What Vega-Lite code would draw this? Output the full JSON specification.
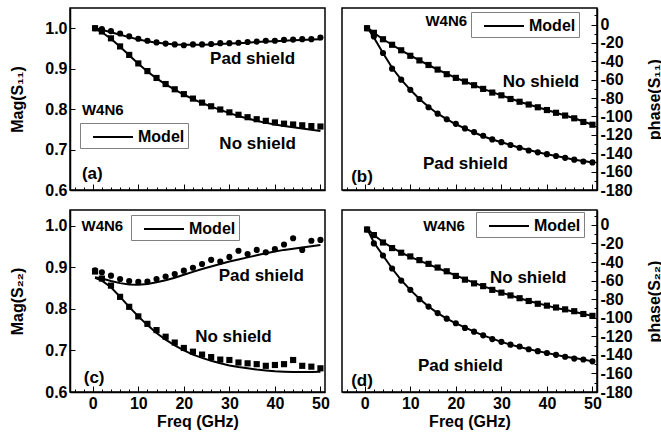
{
  "$schema": "https://vega.github.io/schema/vega-lite/v6.json",
  "padding": {"left": 9, "top": 7, "right": 0, "bottom": 0},
  "autosize": {"type": "pad"},
  "background": "white",
  "config": {
    "font": "Liberation Sans",
    "view": {"stroke": "black", "strokeWidth": 1.5},
    "axis": {
      "labelFont": "Liberation Sans", "labelFontSize": 16, "labelFontWeight": "bold", "labelColor": "black",
      "titleFont": "Liberation Sans", "titleFontSize": 16, "titleFontWeight": "bold", "titleColor": "black",
      "grid": false, "domainColor": "black", "domainWidth": 1.5, "tickColor": "black", "tickWidth": 1
    },
    "legend": {
      "title": null, "strokeColor": "#808080", "fillColor": "white", "padding": 3,
      "labelFont": "Liberation Sans", "labelFontSize": 16, "labelFontWeight": "bold", "labelColor": "black",
      "symbolType": "M-2,0H2", "symbolSize": 400, "symbolStrokeWidth": 2, "symbolStrokeColor": "black", "symbolFillColor": "transparent",
      "symbolOffset": 19, "labelOffset": 14
    }
  },
  "datasets": {
    "meas": [
      {"p":"a","s":"Pad shield","f":0.5,"v":1.0},{"p":"a","s":"Pad shield","f":2,"v":0.998},{"p":"a","s":"Pad shield","f":4,"v":0.993},{"p":"a","s":"Pad shield","f":6,"v":0.987},{"p":"a","s":"Pad shield","f":8,"v":0.98},{"p":"a","s":"Pad shield","f":10,"v":0.974},{"p":"a","s":"Pad shield","f":12,"v":0.969},{"p":"a","s":"Pad shield","f":14,"v":0.965},{"p":"a","s":"Pad shield","f":16,"v":0.962},{"p":"a","s":"Pad shield","f":18,"v":0.96},{"p":"a","s":"Pad shield","f":20,"v":0.958},{"p":"a","s":"Pad shield","f":22,"v":0.96},{"p":"a","s":"Pad shield","f":24,"v":0.96},{"p":"a","s":"Pad shield","f":26,"v":0.961},{"p":"a","s":"Pad shield","f":28,"v":0.963},{"p":"a","s":"Pad shield","f":30,"v":0.963},{"p":"a","s":"Pad shield","f":32,"v":0.964},{"p":"a","s":"Pad shield","f":34,"v":0.966},{"p":"a","s":"Pad shield","f":36,"v":0.967},{"p":"a","s":"Pad shield","f":38,"v":0.969},{"p":"a","s":"Pad shield","f":40,"v":0.969},{"p":"a","s":"Pad shield","f":42,"v":0.971},{"p":"a","s":"Pad shield","f":44,"v":0.972},{"p":"a","s":"Pad shield","f":46,"v":0.973},{"p":"a","s":"Pad shield","f":48,"v":0.973},{"p":"a","s":"Pad shield","f":50,"v":0.977},
      {"p":"a","s":"No shield","f":0.5,"v":1.0},{"p":"a","s":"No shield","f":2,"v":0.992},{"p":"a","s":"No shield","f":4,"v":0.975},{"p":"a","s":"No shield","f":6,"v":0.955},{"p":"a","s":"No shield","f":8,"v":0.934},{"p":"a","s":"No shield","f":10,"v":0.913},{"p":"a","s":"No shield","f":12,"v":0.894},{"p":"a","s":"No shield","f":14,"v":0.877},{"p":"a","s":"No shield","f":16,"v":0.862},{"p":"a","s":"No shield","f":18,"v":0.849},{"p":"a","s":"No shield","f":20,"v":0.837},{"p":"a","s":"No shield","f":22,"v":0.826},{"p":"a","s":"No shield","f":24,"v":0.816},{"p":"a","s":"No shield","f":26,"v":0.807},{"p":"a","s":"No shield","f":28,"v":0.799},{"p":"a","s":"No shield","f":30,"v":0.792},{"p":"a","s":"No shield","f":32,"v":0.786},{"p":"a","s":"No shield","f":34,"v":0.78},{"p":"a","s":"No shield","f":36,"v":0.775},{"p":"a","s":"No shield","f":38,"v":0.771},{"p":"a","s":"No shield","f":40,"v":0.767},{"p":"a","s":"No shield","f":42,"v":0.764},{"p":"a","s":"No shield","f":44,"v":0.762},{"p":"a","s":"No shield","f":46,"v":0.76},{"p":"a","s":"No shield","f":48,"v":0.758},{"p":"a","s":"No shield","f":50,"v":0.757},
      {"p":"b","s":"No shield","f":0.5,"v":-4},{"p":"b","s":"No shield","f":2,"v":-9},{"p":"b","s":"No shield","f":4,"v":-16},{"p":"b","s":"No shield","f":6,"v":-22},{"p":"b","s":"No shield","f":8,"v":-28},{"p":"b","s":"No shield","f":10,"v":-34},{"p":"b","s":"No shield","f":12,"v":-39},{"p":"b","s":"No shield","f":14,"v":-44},{"p":"b","s":"No shield","f":16,"v":-49},{"p":"b","s":"No shield","f":18,"v":-54},{"p":"b","s":"No shield","f":20,"v":-58},{"p":"b","s":"No shield","f":22,"v":-62},{"p":"b","s":"No shield","f":24,"v":-66},{"p":"b","s":"No shield","f":26,"v":-70},{"p":"b","s":"No shield","f":28,"v":-74},{"p":"b","s":"No shield","f":30,"v":-77},{"p":"b","s":"No shield","f":32,"v":-81},{"p":"b","s":"No shield","f":34,"v":-84},{"p":"b","s":"No shield","f":36,"v":-87},{"p":"b","s":"No shield","f":38,"v":-90},{"p":"b","s":"No shield","f":40,"v":-93},{"p":"b","s":"No shield","f":42,"v":-96},{"p":"b","s":"No shield","f":44,"v":-99},{"p":"b","s":"No shield","f":46,"v":-102},{"p":"b","s":"No shield","f":48,"v":-106},{"p":"b","s":"No shield","f":50,"v":-109},
      {"p":"b","s":"Pad shield","f":0.5,"v":-4},{"p":"b","s":"Pad shield","f":2,"v":-13},{"p":"b","s":"Pad shield","f":4,"v":-31},{"p":"b","s":"Pad shield","f":6,"v":-48},{"p":"b","s":"Pad shield","f":8,"v":-60},{"p":"b","s":"Pad shield","f":10,"v":-71},{"p":"b","s":"Pad shield","f":12,"v":-81},{"p":"b","s":"Pad shield","f":14,"v":-90},{"p":"b","s":"Pad shield","f":16,"v":-97},{"p":"b","s":"Pad shield","f":18,"v":-103},{"p":"b","s":"Pad shield","f":20,"v":-108},{"p":"b","s":"Pad shield","f":22,"v":-113},{"p":"b","s":"Pad shield","f":24,"v":-117},{"p":"b","s":"Pad shield","f":26,"v":-121},{"p":"b","s":"Pad shield","f":28,"v":-125},{"p":"b","s":"Pad shield","f":30,"v":-128},{"p":"b","s":"Pad shield","f":32,"v":-131},{"p":"b","s":"Pad shield","f":34,"v":-134},{"p":"b","s":"Pad shield","f":36,"v":-137},{"p":"b","s":"Pad shield","f":38,"v":-139},{"p":"b","s":"Pad shield","f":40,"v":-141},{"p":"b","s":"Pad shield","f":42,"v":-143},{"p":"b","s":"Pad shield","f":44,"v":-145},{"p":"b","s":"Pad shield","f":46,"v":-147},{"p":"b","s":"Pad shield","f":48,"v":-149},{"p":"b","s":"Pad shield","f":50,"v":-150},
      {"p":"c","s":"Pad shield","f":0.5,"v":0.893},{"p":"c","s":"Pad shield","f":2,"v":0.888},{"p":"c","s":"Pad shield","f":4,"v":0.88},{"p":"c","s":"Pad shield","f":6,"v":0.872},{"p":"c","s":"Pad shield","f":8,"v":0.867},{"p":"c","s":"Pad shield","f":10,"v":0.865},{"p":"c","s":"Pad shield","f":12,"v":0.866},{"p":"c","s":"Pad shield","f":14,"v":0.872},{"p":"c","s":"Pad shield","f":16,"v":0.878},{"p":"c","s":"Pad shield","f":18,"v":0.884},{"p":"c","s":"Pad shield","f":20,"v":0.892},{"p":"c","s":"Pad shield","f":22,"v":0.899},{"p":"c","s":"Pad shield","f":24,"v":0.908},{"p":"c","s":"Pad shield","f":26,"v":0.918},{"p":"c","s":"Pad shield","f":28,"v":0.914},{"p":"c","s":"Pad shield","f":30,"v":0.925},{"p":"c","s":"Pad shield","f":32,"v":0.94},{"p":"c","s":"Pad shield","f":34,"v":0.932},{"p":"c","s":"Pad shield","f":36,"v":0.942},{"p":"c","s":"Pad shield","f":38,"v":0.936},{"p":"c","s":"Pad shield","f":40,"v":0.944},{"p":"c","s":"Pad shield","f":42,"v":0.955},{"p":"c","s":"Pad shield","f":44,"v":0.97},{"p":"c","s":"Pad shield","f":46,"v":0.942},{"p":"c","s":"Pad shield","f":48,"v":0.964},{"p":"c","s":"Pad shield","f":50,"v":0.966},
      {"p":"c","s":"No shield","f":0.5,"v":0.89},{"p":"c","s":"No shield","f":2,"v":0.873},{"p":"c","s":"No shield","f":4,"v":0.856},{"p":"c","s":"No shield","f":6,"v":0.829},{"p":"c","s":"No shield","f":8,"v":0.805},{"p":"c","s":"No shield","f":10,"v":0.782},{"p":"c","s":"No shield","f":12,"v":0.764},{"p":"c","s":"No shield","f":14,"v":0.749},{"p":"c","s":"No shield","f":16,"v":0.733},{"p":"c","s":"No shield","f":18,"v":0.719},{"p":"c","s":"No shield","f":20,"v":0.706},{"p":"c","s":"No shield","f":22,"v":0.697},{"p":"c","s":"No shield","f":24,"v":0.69},{"p":"c","s":"No shield","f":26,"v":0.684},{"p":"c","s":"No shield","f":28,"v":0.678},{"p":"c","s":"No shield","f":30,"v":0.677},{"p":"c","s":"No shield","f":32,"v":0.671},{"p":"c","s":"No shield","f":34,"v":0.669},{"p":"c","s":"No shield","f":36,"v":0.667},{"p":"c","s":"No shield","f":38,"v":0.663},{"p":"c","s":"No shield","f":40,"v":0.665},{"p":"c","s":"No shield","f":42,"v":0.667},{"p":"c","s":"No shield","f":44,"v":0.677},{"p":"c","s":"No shield","f":46,"v":0.663},{"p":"c","s":"No shield","f":48,"v":0.661},{"p":"c","s":"No shield","f":50,"v":0.657},
      {"p":"d","s":"No shield","f":0.5,"v":-5},{"p":"d","s":"No shield","f":2,"v":-11},{"p":"d","s":"No shield","f":4,"v":-19},{"p":"d","s":"No shield","f":6,"v":-25},{"p":"d","s":"No shield","f":8,"v":-30},{"p":"d","s":"No shield","f":10,"v":-34},{"p":"d","s":"No shield","f":12,"v":-38},{"p":"d","s":"No shield","f":14,"v":-42},{"p":"d","s":"No shield","f":16,"v":-46},{"p":"d","s":"No shield","f":18,"v":-50},{"p":"d","s":"No shield","f":20,"v":-55},{"p":"d","s":"No shield","f":22,"v":-59},{"p":"d","s":"No shield","f":24,"v":-63},{"p":"d","s":"No shield","f":26,"v":-66},{"p":"d","s":"No shield","f":28,"v":-70},{"p":"d","s":"No shield","f":30,"v":-73},{"p":"d","s":"No shield","f":32,"v":-76},{"p":"d","s":"No shield","f":34,"v":-79},{"p":"d","s":"No shield","f":36,"v":-82},{"p":"d","s":"No shield","f":38,"v":-85},{"p":"d","s":"No shield","f":40,"v":-87},{"p":"d","s":"No shield","f":42,"v":-89},{"p":"d","s":"No shield","f":44,"v":-91},{"p":"d","s":"No shield","f":46,"v":-93},{"p":"d","s":"No shield","f":48,"v":-96},{"p":"d","s":"No shield","f":50,"v":-98},
      {"p":"d","s":"Pad shield","f":0.5,"v":-5},{"p":"d","s":"Pad shield","f":2,"v":-20},{"p":"d","s":"Pad shield","f":4,"v":-33},{"p":"d","s":"Pad shield","f":6,"v":-47},{"p":"d","s":"Pad shield","f":8,"v":-60},{"p":"d","s":"Pad shield","f":10,"v":-70},{"p":"d","s":"Pad shield","f":12,"v":-80},{"p":"d","s":"Pad shield","f":14,"v":-88},{"p":"d","s":"Pad shield","f":16,"v":-95},{"p":"d","s":"Pad shield","f":18,"v":-101},{"p":"d","s":"Pad shield","f":20,"v":-106},{"p":"d","s":"Pad shield","f":22,"v":-111},{"p":"d","s":"Pad shield","f":24,"v":-115},{"p":"d","s":"Pad shield","f":26,"v":-119},{"p":"d","s":"Pad shield","f":28,"v":-123},{"p":"d","s":"Pad shield","f":30,"v":-126},{"p":"d","s":"Pad shield","f":32,"v":-129},{"p":"d","s":"Pad shield","f":34,"v":-131},{"p":"d","s":"Pad shield","f":36,"v":-134},{"p":"d","s":"Pad shield","f":38,"v":-136},{"p":"d","s":"Pad shield","f":40,"v":-138},{"p":"d","s":"Pad shield","f":42,"v":-140},{"p":"d","s":"Pad shield","f":44,"v":-142},{"p":"d","s":"Pad shield","f":46,"v":-144},{"p":"d","s":"Pad shield","f":48,"v":-145},{"p":"d","s":"Pad shield","f":50,"v":-147}
    ],
    "model": [
      {"p":"a","s":"Pad shield","f":0.5,"v":1.0},{"p":"a","s":"Pad shield","f":2,"v":0.996},{"p":"a","s":"Pad shield","f":4,"v":0.99},{"p":"a","s":"Pad shield","f":6,"v":0.984},{"p":"a","s":"Pad shield","f":8,"v":0.978},{"p":"a","s":"Pad shield","f":10,"v":0.972},{"p":"a","s":"Pad shield","f":12,"v":0.968},{"p":"a","s":"Pad shield","f":14,"v":0.964},{"p":"a","s":"Pad shield","f":16,"v":0.962},{"p":"a","s":"Pad shield","f":18,"v":0.96},{"p":"a","s":"Pad shield","f":20,"v":0.959},{"p":"a","s":"Pad shield","f":22,"v":0.959},{"p":"a","s":"Pad shield","f":24,"v":0.959},{"p":"a","s":"Pad shield","f":26,"v":0.96},{"p":"a","s":"Pad shield","f":28,"v":0.961},{"p":"a","s":"Pad shield","f":30,"v":0.962},{"p":"a","s":"Pad shield","f":32,"v":0.963},{"p":"a","s":"Pad shield","f":34,"v":0.964},{"p":"a","s":"Pad shield","f":36,"v":0.966},{"p":"a","s":"Pad shield","f":38,"v":0.967},{"p":"a","s":"Pad shield","f":40,"v":0.968},{"p":"a","s":"Pad shield","f":42,"v":0.969},{"p":"a","s":"Pad shield","f":44,"v":0.97},{"p":"a","s":"Pad shield","f":46,"v":0.971},{"p":"a","s":"Pad shield","f":48,"v":0.972},{"p":"a","s":"Pad shield","f":50,"v":0.973},
      {"p":"a","s":"No shield","f":0.5,"v":0.999},{"p":"a","s":"No shield","f":2,"v":0.99},{"p":"a","s":"No shield","f":4,"v":0.974},{"p":"a","s":"No shield","f":6,"v":0.954},{"p":"a","s":"No shield","f":8,"v":0.933},{"p":"a","s":"No shield","f":10,"v":0.912},{"p":"a","s":"No shield","f":12,"v":0.893},{"p":"a","s":"No shield","f":14,"v":0.876},{"p":"a","s":"No shield","f":16,"v":0.861},{"p":"a","s":"No shield","f":18,"v":0.848},{"p":"a","s":"No shield","f":20,"v":0.836},{"p":"a","s":"No shield","f":22,"v":0.825},{"p":"a","s":"No shield","f":24,"v":0.815},{"p":"a","s":"No shield","f":26,"v":0.806},{"p":"a","s":"No shield","f":28,"v":0.798},{"p":"a","s":"No shield","f":30,"v":0.79},{"p":"a","s":"No shield","f":32,"v":0.783},{"p":"a","s":"No shield","f":34,"v":0.777},{"p":"a","s":"No shield","f":36,"v":0.771},{"p":"a","s":"No shield","f":38,"v":0.766},{"p":"a","s":"No shield","f":40,"v":0.762},{"p":"a","s":"No shield","f":42,"v":0.758},{"p":"a","s":"No shield","f":44,"v":0.755},{"p":"a","s":"No shield","f":46,"v":0.752},{"p":"a","s":"No shield","f":48,"v":0.749},{"p":"a","s":"No shield","f":50,"v":0.746},
      {"p":"b","s":"No shield","f":0.5,"v":-3},{"p":"b","s":"No shield","f":2,"v":-9},{"p":"b","s":"No shield","f":4,"v":-16},{"p":"b","s":"No shield","f":6,"v":-22},{"p":"b","s":"No shield","f":8,"v":-28},{"p":"b","s":"No shield","f":10,"v":-33.5},{"p":"b","s":"No shield","f":12,"v":-39},{"p":"b","s":"No shield","f":14,"v":-44},{"p":"b","s":"No shield","f":16,"v":-49},{"p":"b","s":"No shield","f":18,"v":-53.5},{"p":"b","s":"No shield","f":20,"v":-58},{"p":"b","s":"No shield","f":22,"v":-62},{"p":"b","s":"No shield","f":24,"v":-66},{"p":"b","s":"No shield","f":26,"v":-70},{"p":"b","s":"No shield","f":28,"v":-73.5},{"p":"b","s":"No shield","f":30,"v":-77},{"p":"b","s":"No shield","f":32,"v":-80.5},{"p":"b","s":"No shield","f":34,"v":-84},{"p":"b","s":"No shield","f":36,"v":-87},{"p":"b","s":"No shield","f":38,"v":-90},{"p":"b","s":"No shield","f":40,"v":-93},{"p":"b","s":"No shield","f":42,"v":-96},{"p":"b","s":"No shield","f":44,"v":-99},{"p":"b","s":"No shield","f":46,"v":-102},{"p":"b","s":"No shield","f":48,"v":-105.5},{"p":"b","s":"No shield","f":50,"v":-109},
      {"p":"b","s":"Pad shield","f":0.5,"v":-3},{"p":"b","s":"Pad shield","f":2,"v":-14},{"p":"b","s":"Pad shield","f":4,"v":-31},{"p":"b","s":"Pad shield","f":6,"v":-47},{"p":"b","s":"Pad shield","f":8,"v":-60},{"p":"b","s":"Pad shield","f":10,"v":-71},{"p":"b","s":"Pad shield","f":12,"v":-81},{"p":"b","s":"Pad shield","f":14,"v":-89.5},{"p":"b","s":"Pad shield","f":16,"v":-97},{"p":"b","s":"Pad shield","f":18,"v":-103},{"p":"b","s":"Pad shield","f":20,"v":-108.5},{"p":"b","s":"Pad shield","f":22,"v":-113},{"p":"b","s":"Pad shield","f":24,"v":-117.5},{"p":"b","s":"Pad shield","f":26,"v":-121.5},{"p":"b","s":"Pad shield","f":28,"v":-125},{"p":"b","s":"Pad shield","f":30,"v":-128},{"p":"b","s":"Pad shield","f":32,"v":-131},{"p":"b","s":"Pad shield","f":34,"v":-134},{"p":"b","s":"Pad shield","f":36,"v":-136.5},{"p":"b","s":"Pad shield","f":38,"v":-139},{"p":"b","s":"Pad shield","f":40,"v":-141},{"p":"b","s":"Pad shield","f":42,"v":-143},{"p":"b","s":"Pad shield","f":44,"v":-145},{"p":"b","s":"Pad shield","f":46,"v":-147},{"p":"b","s":"Pad shield","f":48,"v":-148.5},{"p":"b","s":"Pad shield","f":50,"v":-150},
      {"p":"c","s":"Pad shield","f":0.5,"v":0.876},{"p":"c","s":"Pad shield","f":2,"v":0.873},{"p":"c","s":"Pad shield","f":4,"v":0.867},{"p":"c","s":"Pad shield","f":6,"v":0.862},{"p":"c","s":"Pad shield","f":8,"v":0.859},{"p":"c","s":"Pad shield","f":10,"v":0.858},{"p":"c","s":"Pad shield","f":12,"v":0.86},{"p":"c","s":"Pad shield","f":14,"v":0.864},{"p":"c","s":"Pad shield","f":16,"v":0.869},{"p":"c","s":"Pad shield","f":18,"v":0.875},{"p":"c","s":"Pad shield","f":20,"v":0.882},{"p":"c","s":"Pad shield","f":22,"v":0.889},{"p":"c","s":"Pad shield","f":24,"v":0.896},{"p":"c","s":"Pad shield","f":26,"v":0.902},{"p":"c","s":"Pad shield","f":28,"v":0.908},{"p":"c","s":"Pad shield","f":30,"v":0.914},{"p":"c","s":"Pad shield","f":32,"v":0.919},{"p":"c","s":"Pad shield","f":34,"v":0.924},{"p":"c","s":"Pad shield","f":36,"v":0.929},{"p":"c","s":"Pad shield","f":38,"v":0.934},{"p":"c","s":"Pad shield","f":40,"v":0.938},{"p":"c","s":"Pad shield","f":42,"v":0.942},{"p":"c","s":"Pad shield","f":44,"v":0.945},{"p":"c","s":"Pad shield","f":46,"v":0.948},{"p":"c","s":"Pad shield","f":48,"v":0.951},{"p":"c","s":"Pad shield","f":50,"v":0.954},
      {"p":"c","s":"No shield","f":0.5,"v":0.875},{"p":"c","s":"No shield","f":2,"v":0.868},{"p":"c","s":"No shield","f":4,"v":0.852},{"p":"c","s":"No shield","f":6,"v":0.829},{"p":"c","s":"No shield","f":8,"v":0.805},{"p":"c","s":"No shield","f":10,"v":0.782},{"p":"c","s":"No shield","f":12,"v":0.761},{"p":"c","s":"No shield","f":14,"v":0.742},{"p":"c","s":"No shield","f":16,"v":0.726},{"p":"c","s":"No shield","f":18,"v":0.712},{"p":"c","s":"No shield","f":20,"v":0.7},{"p":"c","s":"No shield","f":22,"v":0.69},{"p":"c","s":"No shield","f":24,"v":0.682},{"p":"c","s":"No shield","f":26,"v":0.675},{"p":"c","s":"No shield","f":28,"v":0.669},{"p":"c","s":"No shield","f":30,"v":0.664},{"p":"c","s":"No shield","f":32,"v":0.66},{"p":"c","s":"No shield","f":34,"v":0.657},{"p":"c","s":"No shield","f":36,"v":0.654},{"p":"c","s":"No shield","f":38,"v":0.652},{"p":"c","s":"No shield","f":40,"v":0.65},{"p":"c","s":"No shield","f":42,"v":0.649},{"p":"c","s":"No shield","f":44,"v":0.648},{"p":"c","s":"No shield","f":46,"v":0.648},{"p":"c","s":"No shield","f":48,"v":0.648},{"p":"c","s":"No shield","f":50,"v":0.649},
      {"p":"d","s":"No shield","f":0.5,"v":-4},{"p":"d","s":"No shield","f":2,"v":-11},{"p":"d","s":"No shield","f":4,"v":-18.5},{"p":"d","s":"No shield","f":6,"v":-24.5},{"p":"d","s":"No shield","f":8,"v":-30},{"p":"d","s":"No shield","f":10,"v":-34.5},{"p":"d","s":"No shield","f":12,"v":-38.5},{"p":"d","s":"No shield","f":14,"v":-42.5},{"p":"d","s":"No shield","f":16,"v":-46.5},{"p":"d","s":"No shield","f":18,"v":-50.5},{"p":"d","s":"No shield","f":20,"v":-54.5},{"p":"d","s":"No shield","f":22,"v":-58.5},{"p":"d","s":"No shield","f":24,"v":-62.5},{"p":"d","s":"No shield","f":26,"v":-66},{"p":"d","s":"No shield","f":28,"v":-69.5},{"p":"d","s":"No shield","f":30,"v":-73},{"p":"d","s":"No shield","f":32,"v":-76},{"p":"d","s":"No shield","f":34,"v":-79},{"p":"d","s":"No shield","f":36,"v":-82},{"p":"d","s":"No shield","f":38,"v":-84.5},{"p":"d","s":"No shield","f":40,"v":-87},{"p":"d","s":"No shield","f":42,"v":-89.5},{"p":"d","s":"No shield","f":44,"v":-91.5},{"p":"d","s":"No shield","f":46,"v":-93.5},{"p":"d","s":"No shield","f":48,"v":-96},{"p":"d","s":"No shield","f":50,"v":-98},
      {"p":"d","s":"Pad shield","f":0.5,"v":-4},{"p":"d","s":"Pad shield","f":2,"v":-19},{"p":"d","s":"Pad shield","f":4,"v":-33},{"p":"d","s":"Pad shield","f":6,"v":-47},{"p":"d","s":"Pad shield","f":8,"v":-59.5},{"p":"d","s":"Pad shield","f":10,"v":-70},{"p":"d","s":"Pad shield","f":12,"v":-79.5},{"p":"d","s":"Pad shield","f":14,"v":-88},{"p":"d","s":"Pad shield","f":16,"v":-95},{"p":"d","s":"Pad shield","f":18,"v":-101},{"p":"d","s":"Pad shield","f":20,"v":-106},{"p":"d","s":"Pad shield","f":22,"v":-110.5},{"p":"d","s":"Pad shield","f":24,"v":-115},{"p":"d","s":"Pad shield","f":26,"v":-119},{"p":"d","s":"Pad shield","f":28,"v":-122.5},{"p":"d","s":"Pad shield","f":30,"v":-126},{"p":"d","s":"Pad shield","f":32,"v":-129},{"p":"d","s":"Pad shield","f":34,"v":-131.5},{"p":"d","s":"Pad shield","f":36,"v":-134},{"p":"d","s":"Pad shield","f":38,"v":-136},{"p":"d","s":"Pad shield","f":40,"v":-138},{"p":"d","s":"Pad shield","f":42,"v":-140},{"p":"d","s":"Pad shield","f":44,"v":-142},{"p":"d","s":"Pad shield","f":46,"v":-143.5},{"p":"d","s":"Pad shield","f":48,"v":-145},{"p":"d","s":"Pad shield","f":50,"v":-147}
    ],
    "notes": [
      {"p":"a","t":"Pad shield","f":35.1,"v":0.924},{"p":"a","t":"No shield","f":36.2,"v":0.714},{"p":"a","t":"W4N6","f":2.2,"v":0.799},{"p":"a","t":"(a)","f":-0.1,"v":0.639},
      {"p":"b","t":"W4N6","f":17.9,"v":3.6},{"p":"b","t":"No shield","f":38.7,"v":-62.7},{"p":"b","t":"Pad shield","f":22.1,"v":-151.6},{"p":"b","t":"(b)","f":-0.6,"v":-166.4},
      {"p":"c","t":"W4N6","f":2.1,"v":1.0},{"p":"c","t":"Pad shield","f":37,"v":0.878},{"p":"c","t":"No shield","f":30.9,"v":0.733},{"p":"c","t":"(c)","f":0.3,"v":0.634},
      {"p":"d","t":"W4N6","f":17.4,"v":-1.1},{"p":"d","t":"No shield","f":35.9,"v":-57.4},{"p":"d","t":"Pad shield","f":21,"v":-152},{"p":"d","t":"(d)","f":-0.6,"v":-168}
    ]
  },
  "columns": 2,
  "spacing": {"row": 20, "column": 17},
  "bounds": "flush",
  "resolve": {"scale": {"x": "independent", "y": "independent", "stroke": "independent"}, "legend": {"stroke": "independent"}},
  "concat": [
    {
      "width": 255, "height": 182,
      "encoding": {
        "x": {"field": "f", "type": "quantitative", "scale": {"domain": [-5, 51], "nice": false, "zero": false},
              "axis": {"title": null, "labels": false, "values": [-4,-2,0,2,4,6,8,10,12,14,16,18,20,22,24,26,28,30,32,34,36,38,40,42,44,46,48,50], "tickSize": {"condition": {"test": "datum.value % 10 === 0", "value": -6}, "value": -3}}},
        "y": {"field": "v", "type": "quantitative", "scale": {"domain": [0.6, 1.05], "nice": false, "zero": false},
              "axis": {"title": "Mag(S₁₁)", "values": [0.6, 0.7, 0.8, 0.9, 1.0], "format": ".1f", "tickSize": -5, "labelPadding": 8, "titlePadding": 19}}
      },
      "layer": [
        {"data": {"name": "model"}, "transform": [{"filter": "datum.p === 'a'"}], "mark": {"type": "line", "strokeWidth": 2},
         "encoding": {"detail": {"field": "s"}, "stroke": {"datum": "Model", "type": "nominal", "scale": {"range": ["black"]}, "legend": {"orient": "none", "legendX": 10, "legendY": 115}}}},
        {"data": {"name": "meas"}, "transform": [{"filter": "datum.p === 'a'"}], "mark": {"type": "point", "filled": true, "opacity": 1, "color": "black", "size": 38},
         "encoding": {"shape": {"field": "s", "type": "nominal", "scale": {"domain": ["Pad shield", "No shield"], "range": ["circle", "square"]}, "legend": null}}},
        {"data": {"name": "notes"}, "transform": [{"filter": "datum.p === 'a' && datum.t === 'W4N6'"}], "mark": {"type": "text", "font": "Liberation Sans", "fontWeight": "bold", "fontSize": 15, "color": "black"}, "encoding": {"text": {"field": "t"}}},
        {"data": {"name": "notes"}, "transform": [{"filter": "datum.p === 'a' && datum.t !== 'W4N6'"}], "mark": {"type": "text", "font": "Liberation Sans", "fontWeight": "bold", "fontSize": 17, "color": "black"}, "encoding": {"text": {"field": "t"}}}
      ]
    },
    {
      "width": 255, "height": 182,
      "encoding": {
        "x": {"field": "f", "type": "quantitative", "scale": {"domain": [-5, 51], "nice": false, "zero": false},
              "axis": {"title": null, "labels": false, "values": [-4,-2,0,2,4,6,8,10,12,14,16,18,20,22,24,26,28,30,32,34,36,38,40,42,44,46,48,50], "tickSize": {"condition": {"test": "datum.value % 10 === 0", "value": -6}, "value": -3}}},
        "y": {"field": "v", "type": "quantitative", "scale": {"domain": [-180, 18], "nice": false, "zero": false},
              "axis": {"orient": "right", "title": "phase(S₁₁)", "titleAngle": 270, "titleBaseline": "bottom", "values": [-180,-170,-160,-150,-140,-130,-120,-110,-100,-90,-80,-70,-60,-50,-40,-30,-20,-10,0,10],
                       "labelExpr": "datum.value % 20 !== 0 || datum.value > 0 ? '' : (datum.value === 0 ? '0' : '-' + abs(datum.value))",
                       "tickSize": {"condition": {"test": "datum.value % 20 === 0", "value": -6}, "value": -3}, "labelPadding": 9, "titlePadding": 30}}
      },
      "layer": [
        {"data": {"name": "model"}, "transform": [{"filter": "datum.p === 'b'"}], "mark": {"type": "line", "strokeWidth": 2},
         "encoding": {"detail": {"field": "s"}, "stroke": {"datum": "Model", "type": "nominal", "scale": {"range": ["black"]}, "legend": {"orient": "none", "legendX": 129, "legendY": 4}}}},
        {"data": {"name": "meas"}, "transform": [{"filter": "datum.p === 'b'"}], "mark": {"type": "point", "filled": true, "opacity": 1, "color": "black", "size": 38},
         "encoding": {"shape": {"field": "s", "type": "nominal", "scale": {"domain": ["Pad shield", "No shield"], "range": ["circle", "square"]}, "legend": null}}},
        {"data": {"name": "notes"}, "transform": [{"filter": "datum.p === 'b' && datum.t === 'W4N6'"}], "mark": {"type": "text", "font": "Liberation Sans", "fontWeight": "bold", "fontSize": 15, "color": "black"}, "encoding": {"text": {"field": "t"}}},
        {"data": {"name": "notes"}, "transform": [{"filter": "datum.p === 'b' && datum.t !== 'W4N6'"}], "mark": {"type": "text", "font": "Liberation Sans", "fontWeight": "bold", "fontSize": 17, "color": "black"}, "encoding": {"text": {"field": "t"}}}
      ]
    },
    {
      "width": 255, "height": 182,
      "encoding": {
        "x": {"field": "f", "type": "quantitative", "scale": {"domain": [-5, 51], "nice": false, "zero": false},
              "axis": {"title": "Freq (GHz)", "values": [-4,-2,0,2,4,6,8,10,12,14,16,18,20,22,24,26,28,30,32,34,36,38,40,42,44,46,48,50],
                       "labelExpr": "datum.value % 10 === 0 ? datum.label : ''", "labelPadding": 9, "titlePadding": 2,
                       "tickSize": {"condition": {"test": "datum.value % 10 === 0", "value": -6}, "value": -3}}},
        "y": {"field": "v", "type": "quantitative", "scale": {"domain": [0.6, 1.038], "nice": false, "zero": false},
              "axis": {"title": "Mag(S₂₂)", "values": [0.6, 0.7, 0.8, 0.9, 1.0], "format": ".1f", "tickSize": -5, "labelPadding": 8, "titlePadding": 19}}
      },
      "layer": [
        {"data": {"name": "model"}, "transform": [{"filter": "datum.p === 'c'"}], "mark": {"type": "line", "strokeWidth": 2},
         "encoding": {"detail": {"field": "s"}, "stroke": {"datum": "Model", "type": "nominal", "scale": {"range": ["black"]}, "legend": {"orient": "none", "legendX": 61, "legendY": 5}}}},
        {"data": {"name": "meas"}, "transform": [{"filter": "datum.p === 'c'"}], "mark": {"type": "point", "filled": true, "opacity": 1, "color": "black", "size": 38},
         "encoding": {"shape": {"field": "s", "type": "nominal", "scale": {"domain": ["Pad shield", "No shield"], "range": ["circle", "square"]}, "legend": null}}},
        {"data": {"name": "notes"}, "transform": [{"filter": "datum.p === 'c' && datum.t === 'W4N6'"}], "mark": {"type": "text", "font": "Liberation Sans", "fontWeight": "bold", "fontSize": 15, "color": "black"}, "encoding": {"text": {"field": "t"}}},
        {"data": {"name": "notes"}, "transform": [{"filter": "datum.p === 'c' && datum.t !== 'W4N6'"}], "mark": {"type": "text", "font": "Liberation Sans", "fontWeight": "bold", "fontSize": 17, "color": "black"}, "encoding": {"text": {"field": "t"}}}
      ]
    },
    {
      "width": 255, "height": 182,
      "encoding": {
        "x": {"field": "f", "type": "quantitative", "scale": {"domain": [-5, 51], "nice": false, "zero": false},
              "axis": {"title": "Freq (GHz)", "values": [-4,-2,0,2,4,6,8,10,12,14,16,18,20,22,24,26,28,30,32,34,36,38,40,42,44,46,48,50],
                       "labelExpr": "datum.value % 10 === 0 ? datum.label : ''", "labelPadding": 9, "titlePadding": 2,
                       "tickSize": {"condition": {"test": "datum.value % 10 === 0", "value": -6}, "value": -3}}},
        "y": {"field": "v", "type": "quantitative", "scale": {"domain": [-180, 16], "nice": false, "zero": false},
              "axis": {"orient": "right", "title": "phase(S₂₂)", "titleAngle": 270, "titleBaseline": "bottom", "values": [-180,-170,-160,-150,-140,-130,-120,-110,-100,-90,-80,-70,-60,-50,-40,-30,-20,-10,0,10],
                       "labelExpr": "datum.value % 20 !== 0 || datum.value > 0 ? '' : (datum.value === 0 ? '0' : '-' + abs(datum.value))",
                       "tickSize": {"condition": {"test": "datum.value % 20 === 0", "value": -6}, "value": -3}, "labelPadding": 9, "titlePadding": 30}}
      },
      "layer": [
        {"data": {"name": "model"}, "transform": [{"filter": "datum.p === 'd'"}], "mark": {"type": "line", "strokeWidth": 2},
         "encoding": {"detail": {"field": "s"}, "stroke": {"datum": "Model", "type": "nominal", "scale": {"range": ["black"]}, "legend": {"orient": "none", "legendX": 134, "legendY": 2}}}},
        {"data": {"name": "meas"}, "transform": [{"filter": "datum.p === 'd'"}], "mark": {"type": "point", "filled": true, "opacity": 1, "color": "black", "size": 38},
         "encoding": {"shape": {"field": "s", "type": "nominal", "scale": {"domain": ["Pad shield", "No shield"], "range": ["circle", "square"]}, "legend": null}}},
        {"data": {"name": "notes"}, "transform": [{"filter": "datum.p === 'd' && datum.t === 'W4N6'"}], "mark": {"type": "text", "font": "Liberation Sans", "fontWeight": "bold", "fontSize": 15, "color": "black"}, "encoding": {"text": {"field": "t"}}},
        {"data": {"name": "notes"}, "transform": [{"filter": "datum.p === 'd' && datum.t !== 'W4N6'"}], "mark": {"type": "text", "font": "Liberation Sans", "fontWeight": "bold", "fontSize": 17, "color": "black"}, "encoding": {"text": {"field": "t"}}}
      ]
    }
  ]
}
